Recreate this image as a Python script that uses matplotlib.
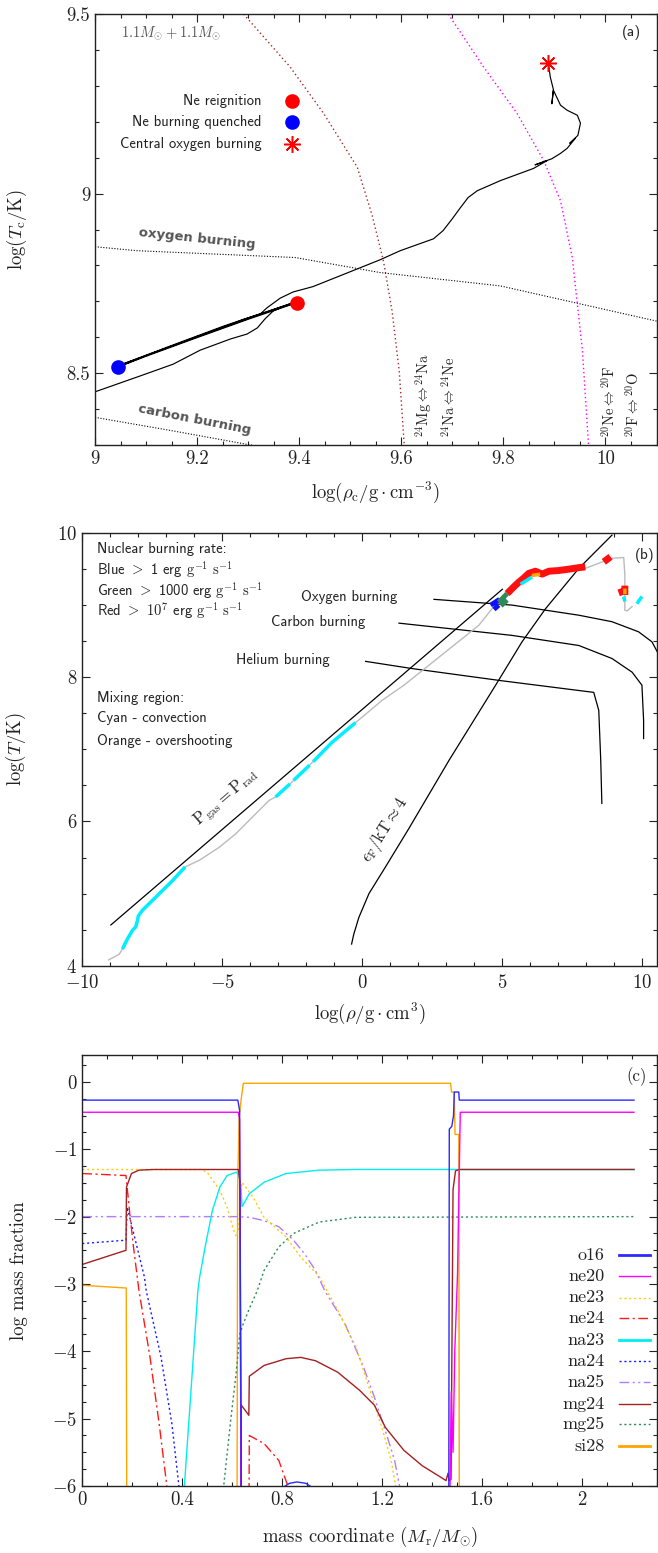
import numpy as np
import matplotlib
matplotlib.use('Agg')
import matplotlib.pyplot as plt
from matplotlib.ticker import MultipleLocator

nan = np.nan

plt.rcParams['font.family'] = ['cmr10']
plt.rcParams['mathtext.fontset'] = 'cm'
plt.rcParams['axes.formatter.use_mathtext'] = True
plt.rcParams['axes.unicode_minus'] = True

# ---------------- Panel (a) data ----------------
track_rho = [8.99, 9.000, 9.088, 9.153, 9.206, 9.265, 9.298, 9.318, 9.333, 9.349, 9.369, 9.388, 9.395,
             9.30, 9.20, 9.10, 9.045,
             9.10, 9.20, 9.30, 9.392,
             9.30, 9.20, 9.10, 9.046,
             9.15, 9.25, 9.291, 9.324, 9.337, 9.363, 9.388, 9.427, 9.494, 9.559, 9.598, 9.663,
             9.682, 9.700, 9.716, 9.731, 9.749, 9.794, 9.859, 9.886, 9.862, 9.895, 9.912, 9.925,
             9.941, 9.930, 9.946, 9.951, 9.945, 9.925, 9.912, 9.898, 9.895, 9.898, 9.892, 9.888]
track_T = [8.444, 8.448, 8.492, 8.525, 8.564, 8.595, 8.609, 8.626, 8.651, 8.673, 8.685, 8.693, 8.696,
           8.650, 8.599, 8.547, 8.517,
           8.549, 8.602, 8.654, 8.698,
           8.652, 8.601, 8.549, 8.521,
           8.577, 8.630, 8.650, 8.665, 8.682, 8.709, 8.726, 8.741, 8.779, 8.816, 8.841, 8.874,
           8.897, 8.930, 8.961, 8.989, 9.008, 9.036, 9.070, 9.092, 9.080, 9.097, 9.112, 9.126,
           9.154, 9.140, 9.162, 9.196, 9.218, 9.232, 9.246, 9.288, 9.250, 9.290, 9.324, 9.363]

reignition = (9.395, 8.696)
quenched = (9.045, 8.517)
central_O = (9.888, 9.363)

mg_na_rho = [9.291, 9.382, 9.448, 9.514, 9.543, 9.565, 9.582, 9.596, 9.606]
mg_na_T = [9.500, 9.353, 9.223, 9.073, 8.939, 8.813, 8.673, 8.506, 8.296]
ne_f_rho = [9.692, 9.761, 9.827, 9.879, 9.912, 9.935, 9.955, 9.967]
ne_f_T = [9.500, 9.353, 9.223, 9.092, 8.980, 8.822, 8.561, 8.296]
oxy_rho = [9.0, 9.082, 9.392, 9.559, 9.794, 10.1]
oxy_T = [8.852, 8.841, 8.822, 8.780, 8.743, 8.645]
carb_rho = [9.0, 9.15, 9.297, 9.33]
carb_T = [8.377, 8.340, 8.302, 8.294]

# ---------------- Panel (b) data ----------------
prof_rho = [-9.05, -8.67, -8.56, -8.38, -8.20, -8.08, -8.02, -7.99, -7.84, -7.37, -6.77, -6.32, -5.82,
            -5.11, -4.51, -3.92, -3.33, -3.09, -2.50, -1.78, -1.07, -0.24, 0.71, 1.49, 2.97, 4.16,
            4.63, 4.87, 5.23, 5.59, 5.94, 6.18, 6.42, 6.66, 7.01, 7.73, 7.96, 8.91, 9.33, 9.37,
            9.37, 9.45, 9.63]
prof_T = [4.08, 4.16, 4.23, 4.37, 4.49, 4.54, 4.63, 4.69, 4.77, 4.95, 5.18, 5.37, 5.46,
          5.64, 5.83, 6.06, 6.29, 6.34, 6.55, 6.82, 7.10, 7.37, 7.68, 7.89, 8.35, 8.72,
          8.95, 9.05, 9.18, 9.32, 9.44, 9.46, 9.42, 9.46, 9.47, 9.52, 9.51, 9.65, 9.66, 9.42,
          8.93, 8.92, 8.98]

conv_rho = [-8.56, -8.38, -8.20, -8.08, -8.02, -7.99, -7.84, -7.37, -6.77, -6.32, nan,
            -3.09, -2.58, nan, -2.45, -1.88, nan, -1.75, -1.07, -0.24, nan,
            5.65, 6.06, nan, 9.33, 9.37, nan, 9.80, 9.98]
conv_T = [4.23, 4.37, 4.49, 4.54, 4.63, 4.69, 4.77, 4.95, 5.18, 5.37, nan,
          6.34, 6.52, nan, 6.57, 6.78, nan, 6.83, 7.10, 7.37, nan,
          9.29, 9.39, nan, 9.12, 9.05, nan, 9.02, 9.12]
ovs_rho = [6.05, 6.35, nan, 9.37, 9.37]
ovs_T = [9.41, 9.43, nan, 9.15, 9.23]
blue_rho = [4.58, 4.90, nan, 4.70, 4.87]
blue_T = [9.00, 9.08, nan, 8.94, 9.00]
green_rho = [4.87, 5.17, nan, 4.95, 5.17]
green_T = [9.04, 9.16, nan, 8.99, 9.07]
red_rho = [5.17, 5.40, 5.59, 5.75, 5.94, 6.18, 6.42, 6.66, 7.01, 7.40, 7.73, 7.96, nan,
           8.62, 8.86, nan, 9.15, 9.37, nan, 9.37, 9.37]
red_T = [9.16, 9.25, 9.32, 9.37, 9.44, 9.47, 9.43, 9.47, 9.48, 9.50, 9.52, 9.53, nan,
         9.60, 9.67, nan, 9.17, 9.20, nan, 9.14, 9.27]

pgas_rho = [-8.97, 5.00]
pgas_T = [4.565, 9.22]
eF_rho = [-0.38, -0.30, -0.12, 0.24, 0.83, 1.66, 3.10, 4.76, 5.70, 6.54, 7.73, 8.91]
eF_T = [4.30, 4.44, 4.67, 5.00, 5.37, 5.90, 6.85, 7.89, 8.49, 8.95, 9.51, 9.97]
he_rho = [0.12, 1.78, 5.00, 8.26, 8.44, 8.51, 8.55]
he_T = [8.22, 8.12, 7.95, 7.79, 7.54, 6.85, 6.25]
c_rho = [1.31, 5.35, 7.73, 8.91, 9.63, 9.98, 10.04, 10.04]
c_T = [8.75, 8.58, 8.44, 8.26, 8.07, 7.89, 7.40, 7.15]
o_rho = [2.56, 5.35, 7.73, 8.91, 9.86, 10.34, 10.6]
o_T = [9.08, 9.00, 8.86, 8.77, 8.63, 8.49, 8.30]

# ---------------- Panel (c) data ----------------
species = ['o16', 'ne20', 'ne23', 'ne24', 'na23', 'na24', 'na25', 'mg24', 'mg25', 'si28']
o16_m = [0, 0.623, 0.630, 0.637, nan, 0.800, 0.830, 0.860, 0.895, 0.925, nan,
         1.468, 1.470, 1.480, 1.487, 1.490, 1.508, 1.510, 2.21]
o16_v = [-0.27, -0.27, -0.42, -6.3, nan, -6.03, -5.96, -5.94, -5.96, -6.03, nan,
         -6.3, -0.70, -0.66, -0.50, -0.15, -0.15, -0.27, -0.27]
ne20_m = [0, 0.625, 0.630, 0.636, nan, 1.472, 1.478, 1.485, 1.492, 1.503, 1.514, 2.21]
ne20_v = [-0.45, -0.45, -0.55, -6.3, nan, -6.3, -4.6, -5.5, -4.0, -2.85, -0.45, -0.45]
ne23_m = [0, 0.477, 0.50, 0.551, 0.580, 0.602, 0.617, 0.625, 0.630, 0.640, 0.684, 0.728, 0.816,
          0.875, 0.949, 1.023, 1.097, 1.156, 1.200, 1.237, 1.260]
ne23_v = [-1.3, -1.3, -1.34, -1.61, -1.86, -2.15, -2.30, -2.20, -1.90, -1.49, -1.71, -2.01, -2.30,
          -2.60, -2.89, -3.39, -3.94, -4.63, -5.13, -5.62, -6.1]
ne24_m = [0, 0.175, 0.190, 0.205, 0.227, 0.271, 0.308, 0.342, nan, 0.668, 0.669, 0.728, 0.787, 0.833]
ne24_v = [-1.36, -1.39, -1.95, -2.45, -3.10, -4.08, -5.08, -6.1, nan, -6.1, -5.25, -5.37, -5.62, -6.1]
na23_m = [0.408, 0.463, 0.470, 0.492, 0.521, 0.551, 0.580, 0.617, 0.628, 0.635, 0.640, 0.645,
          0.669, 0.728, 0.816, 0.949, 1.096, 1.473, 2.21]
na23_v = [-6.05, -3.10, -2.90, -2.45, -1.91, -1.56, -1.39, -1.34, -1.39, -1.55, -1.85, -1.82,
          -1.66, -1.49, -1.36, -1.31, -1.30, -1.30, -1.30]
na24_m = [0, 0.175, 0.180, 0.249, 0.256, 0.315, 0.359, 0.390]
na24_v = [-2.40, -2.35, -1.86, -2.90, -3.10, -4.08, -5.08, -6.1]
na25_m = [0, 0.625, 0.669, 0.728, 0.787, 0.846, 0.890, 0.934, 0.971, 1.052, 1.126, 1.170, 1.214,
          1.251, 1.276]
na25_v = [-2.0, -2.0, -2.01, -2.06, -2.15, -2.35, -2.55, -2.80, -3.10, -3.59, -4.23, -4.68, -5.18,
          -5.62, -6.1]
mg24_m = [0, 0.175, 0.177, 0.197, 0.227, 0.286, 0.625, 0.632, 0.636, 0.637, 0.667, 0.669, 0.728,
          0.816, 0.875, 0.934, 1.023, 1.111, 1.170, 1.214, 1.288, 1.362, 1.436, 1.457, 1.465,
          1.469, 1.477, 1.485, 1.495, 1.510, 2.21]
mg24_v = [-2.71, -2.50, -1.56, -1.36, -1.31, -1.30, -1.30, -1.50, -6.3, -4.80, -4.95, -4.37, -4.21,
          -4.11, -4.09, -4.14, -4.31, -4.58, -4.80, -5.13, -5.47, -5.70, -5.87, -5.92, -5.81,
          -5.92, -5.90, -1.60, -1.32, -1.30, -1.30]
mg25_m = [0.565, 0.579, 0.593, 0.616, 0.631, 0.645, 0.672, 0.701, 0.728, 0.787, 0.846, 0.949,
          1.096, 2.21]
mg25_v = [-6.05, -5.56, -5.07, -4.33, -3.74, -3.59, -3.34, -3.10, -2.80, -2.45, -2.25, -2.08,
          -2.01, -2.0]
si28_m = [0, 0.176, 0.178, nan, 0.620, 0.622, 0.628, 0.635, 0.645, 1.475, 1.479, 1.490, 1.493,
          1.508, 1.510]
si28_v = [-3.02, -3.06, -6.3, nan, -6.3, -1.6, -0.55, -0.30, -0.02, -0.02, -0.15, -0.15, -0.78,
          -0.78, -6.3]

series_c = {
    'o16': (o16_m, o16_v), 'ne20': (ne20_m, ne20_v), 'ne23': (ne23_m, ne23_v),
    'ne24': (ne24_m, ne24_v), 'na23': (na23_m, na23_v), 'na24': (na24_m, na24_v),
    'na25': (na25_m, na25_v), 'mg24': (mg24_m, mg24_v), 'mg25': (mg25_m, mg25_v),
    'si28': (si28_m, si28_v),
}
styles_c = {
    'o16': dict(color='#2a2aff', ls='-'),
    'ne20': dict(color='#ff00ff', ls='-'),
    'ne23': dict(color='#ffcc00', ls=(0, (1.5, 2))),
    'ne24': dict(color='#ff1a1a', ls=(0, (7, 2.5, 1.5, 2.5))),
    'na23': dict(color='#00eeee', ls='-'),
    'na24': dict(color='#1a1aff', ls=(0, (1.5, 2))),
    'na25': dict(color='#b07cff', ls=(0, (7, 2.5, 1.5, 2.5, 1.5, 2.5))),
    'mg24': dict(color='#a52020', ls='-'),
    'mg25': dict(color='#2e8b57', ls=(0, (1.5, 2))),
    'si28': dict(color='#ffa500', ls='-'),
}

# ---------------- Figure ----------------
W, H = 658, 1553
fig = plt.figure(figsize=(W / 100, H / 100), dpi=100)


def rect(l, r, t, b):
    return [l / W, 1 - b / H, (r - l) / W, (b - t) / H]


TXT = '#222222'
TICKFS = 13.5


def style_axis(ax):
    ax.tick_params(which='both', direction='in', top=True, right=True, labelsize=TICKFS,
                   colors=TXT, width=0.8)
    ax.tick_params(which='major', length=6)
    ax.tick_params(which='minor', length=3)
    for s in ax.spines.values():
        s.set_linewidth(1.0)
        s.set_color('#222222')


# ---- (a) ----
axA = fig.add_axes(rect(95, 656.5, 14, 445))
axA.plot(mg_na_rho, mg_na_T, color='#a52a2a', ls=(0, (1, 2)), lw=1.0)
axA.plot(ne_f_rho, ne_f_T, color='#ff00ff', ls=(0, (1, 2)), lw=1.0)
axA.plot(oxy_rho, oxy_T, color='black', ls=(0, (1, 1.5)), lw=0.8)
axA.plot(carb_rho, carb_T, color='black', ls=(0, (1, 1.5)), lw=0.8)
axA.plot(track_rho, track_T, color='black', lw=0.85)
axA.plot(*reignition, 'o', color='red', ms=9.5, zorder=5)
axA.plot(*quenched, 'o', color='blue', ms=9.5, zorder=5)
axA.plot(*central_O, marker=(8, 2, 0), color='red', ms=12, mew=1.1, zorder=5, ls='none')
axA.set_xlim(9.0, 10.1)
axA.set_ylim(8.3, 9.5)
axA.xaxis.set_major_locator(MultipleLocator(0.2))
axA.xaxis.set_minor_locator(MultipleLocator(0.05))
axA.yaxis.set_major_locator(MultipleLocator(0.5))
axA.yaxis.set_minor_locator(MultipleLocator(0.1))
axA.xaxis.set_major_formatter(plt.FuncFormatter(lambda v, p: f'{v:g}'))
axA.yaxis.set_major_formatter(plt.FuncFormatter(lambda v, p: f'{v:g}'))
style_axis(axA)
axA.set_xlabel(r'$\log(\rho_{\rm c}/{\rm g\cdot cm^{-3}})$', fontsize=13.5, color=TXT)
axA.set_ylabel(r'$\log(T_{\rm c}/{\rm K})$', fontsize=13.5, color=TXT)
axA.xaxis.set_label_coords(0.5, -0.081)
axA.yaxis.set_label_coords(-0.118, 0.5)

axA.text(0.047, 0.955, r'$1.1M_{\odot}+1.1M_{\odot}$', transform=axA.transAxes, fontsize=10.5,
         color='#555555', va='center', ha='left')
axA.text(0.955, 0.958, '(a)', transform=axA.transAxes, fontsize=11, family='cmss10',
         color=TXT, va='center', ha='center')
leg_a = [('Ne reignition', dict(marker='o', color='red', ms=9.5), 0.798),
         ('Ne burning quenched', dict(marker='o', color='blue', ms=9.5), 0.749),
         ('Central oxygen burning', dict(marker=(8, 2, 0), color='red', ms=12, mew=1.1), 0.698)]
for lab, mk, yy in leg_a:
    axA.text(0.297, yy, lab, transform=axA.transAxes, fontsize=10.5, family='cmss10',
             color=TXT, ha='right', va='center')
    axA.plot([0.3505], [yy], transform=axA.transAxes, ls='none', **mk)

axA.text(9.2, 8.874, 'oxygen burning', fontsize=9.5, family='DejaVu Sans', weight='semibold',
         color='#555555', rotation=-6, ha='center', va='center')
axA.text(9.196, 8.372, 'carbon burning', fontsize=9.5, family='DejaVu Sans', weight='semibold',
         color='#555555', rotation=-11, ha='center', va='center')
for xx, s in [(9.644, r'${}^{24}{\rm Mg}\Leftrightarrow{}^{24}{\rm Na}$'),
              (9.693, r'${}^{24}{\rm Na}\Leftrightarrow{}^{24}{\rm Ne}$'),
              (10.006, r'${}^{20}{\rm Ne}\Leftrightarrow{}^{20}{\rm F}$'),
              (10.054, r'${}^{20}{\rm F}\Leftrightarrow{}^{20}{\rm O}$')]:
    axA.text(xx, 8.322, s, rotation=90, fontsize=10.5, color=TXT, ha='center', va='bottom')

# ---- (b) ----
axB = fig.add_axes(rect(82, 656.5, 533, 965.7))
axB.plot(pgas_rho, pgas_T, color='black', lw=0.9)
axB.plot(eF_rho, eF_T, color='black', lw=0.9)
axB.plot(he_rho, he_T, color='black', lw=0.9)
axB.plot(c_rho, c_T, color='black', lw=0.9)
axB.plot(o_rho, o_T, color='black', lw=0.9)
axB.plot(prof_rho, prof_T, color='#bbbbbb', lw=1.0)
axB.plot(red_rho, red_T, color='#ff1010', lw=5.0, solid_capstyle='butt')
axB.plot(blue_rho, blue_T, color='#1010ff', lw=3.5, solid_capstyle='butt')
axB.plot(green_rho, green_T, color='#2e8b57', lw=3.5, solid_capstyle='butt')
axB.plot(conv_rho, conv_T, color='#00eeff', lw=2.5, solid_capstyle='butt')
axB.plot(ovs_rho, ovs_T, color='#ffa500', lw=2.5, solid_capstyle='butt')
axB.set_xlim(-10, 10.5)
axB.set_ylim(4, 10)
axB.xaxis.set_major_locator(MultipleLocator(5))
axB.xaxis.set_minor_locator(MultipleLocator(1))
axB.yaxis.set_major_locator(MultipleLocator(2))
axB.yaxis.set_minor_locator(MultipleLocator(0.5))
style_axis(axB)
axB.tick_params(axis='x', which='major', pad=6)
axB.set_xlabel(r'$\log(\rho/{\rm g\cdot cm^{3}})$', fontsize=13.5, color=TXT)
axB.set_ylabel(r'$\log(T/{\rm K})$', fontsize=13.5, color=TXT)
axB.xaxis.set_label_coords(0.5, -0.082)
axB.yaxis.set_label_coords(-0.094, 0.5)

axB.text(0.979, 0.947, '(b)', transform=axB.transAxes, fontsize=11, family='cmss10',
         color=TXT, ha='center', va='center')
btxt = [('Nuclear burning rate:', 0.963),
        (r'Blue $>$ 1 erg $\mathrm{g}^{-1}\ \mathrm{s}^{-1}$', 0.915),
        (r'Green $>$ 1000 erg $\mathrm{g}^{-1}\ \mathrm{s}^{-1}$', 0.867),
        (r'Red $>$ $10^{7}$ erg $\mathrm{g}^{-1}\ \mathrm{s}^{-1}$', 0.820),
        ('Mixing region:', 0.619),
        ('Cyan - convection', 0.572),
        ('Orange - overshooting', 0.520)]
for s, yy in btxt:
    axB.text(0.026, yy, s, transform=axB.transAxes, fontsize=10.5, family='cmss10',
             color=TXT, ha='left', va='center')
axB.text(-2.20, 9.115, 'Oxygen burning', fontsize=10.5, family='cmss10', color=TXT, va='center')
axB.text(-3.27, 8.77, 'Carbon burning', fontsize=10.5, family='cmss10', color=TXT, va='center')
axB.text(-4.51, 8.236, 'Helium burning', fontsize=10.5, family='cmss10', color=TXT, va='center')
axB.text(-4.85, 6.33, r'$\rm P_{gas} = P_{rad}$', fontsize=12, color=TXT, rotation=40.5,
         ha='center', va='center')
axB.text(0.80, 5.88, r'$\epsilon_{\rm F}/{\rm kT}\approx 4$', fontsize=12, color=TXT,
         rotation=58, ha='center', va='center')

# ---- (c) ----
axC = fig.add_axes(rect(82.3, 656.5, 1055, 1486))
order = ['si28', 'mg25', 'na25', 'na24', 'ne24', 'ne23', 'na23', 'mg24', 'ne20', 'o16']
for sp in order:
    m, v = series_c[sp]
    axC.plot(m, v, lw=1.0, **styles_c[sp])
axC.set_xlim(0, 2.3)
axC.set_ylim(-6, 0.4)
axC.xaxis.set_major_locator(MultipleLocator(0.4))
axC.xaxis.set_minor_locator(MultipleLocator(0.1))
axC.yaxis.set_major_locator(MultipleLocator(1))
axC.yaxis.set_minor_locator(MultipleLocator(0.25))
axC.xaxis.set_major_formatter(plt.FuncFormatter(lambda v, p: f'{v:g}'))
style_axis(axC)
axC.set_xlabel(r'mass coordinate $(M_{\rm r}/M_{\odot})$', fontsize=13.5, color=TXT)
axC.set_ylabel('log mass fraction', fontsize=13.5, color=TXT)
axC.xaxis.set_label_coords(0.5, -0.09)
axC.yaxis.set_label_coords(-0.095, 0.5)
axC.text(0.9645, 0.95, '(c)', transform=axC.transAxes, fontsize=12, color=TXT,
         ha='center', va='center')
leg_y = [0.536, 0.487, 0.437, 0.390, 0.339, 0.290, 0.241, 0.190, 0.144, 0.093]
for sp, yy in zip(species, leg_y):
    axC.text(0.9095, yy, sp, transform=axC.transAxes, fontsize=13, color=TXT,
             ha='right', va='center')
    st = dict(styles_c[sp])
    lw = 2.0 if sp in ('o16', 'na23', 'si28') else 1.0
    axC.plot([0.934, 0.988], [yy, yy], transform=axC.transAxes, lw=lw, **st)

fig.savefig('out.png', dpi=100)
